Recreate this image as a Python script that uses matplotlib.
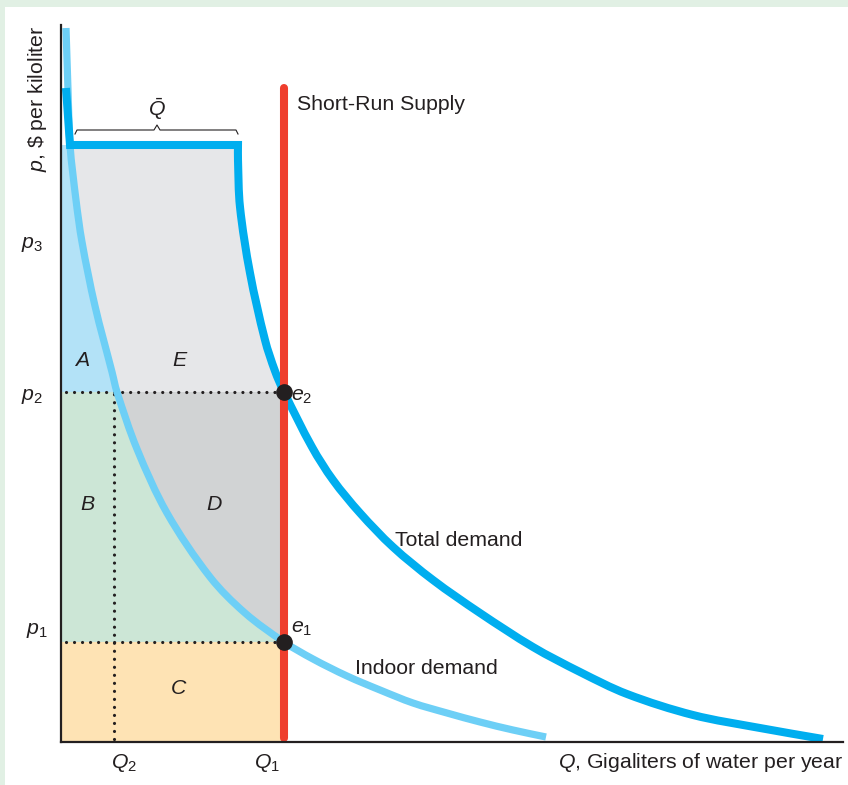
import matplotlib
matplotlib.use('Agg')
import matplotlib.pyplot as plt
import numpy as np
from matplotlib.patches import Rectangle, PathPatch
from matplotlib.path import Path

plt.rcParams['font.family'] = ['Liberation Sans', 'DejaVu Sans']
plt.rcParams['mathtext.fontset'] = 'custom'
plt.rcParams['mathtext.rm'] = 'Liberation Sans'
plt.rcParams['mathtext.it'] = 'Liberation Sans:italic'
plt.rcParams['mathtext.bf'] = 'Liberation Sans:bold'

# ---------------- data ----------------
indoor_q = [0.5, 0.7, 0.9, 1.5, 2.1, 3.4, 5.1, 5.6, 7.6, 10.6, 14.9, 18.4, 22.3,
            25.2, 28.6, 31.9, 35.2, 38.6, 41.9, 45.2, 48.5]
indoor_p = [71.4, 65.2, 59.7, 54.2, 50.0, 43.6, 37.0, 35.0, 29.3, 22.9, 16.5, 12.9, 10.0,
            8.3, 6.6, 5.2, 3.9, 2.9, 2.0, 1.2, 0.5]

# total demand: kinked top (vertical + horizontal Q-bar segment) then a curve
total_top_q = [0.5, 0.9, 17.7]
total_top_p = [65.4, 59.7, 59.7]
total_q = [17.7, 17.7, 17.9, 18.9, 20.4, 21.4, 22.3, 25.1, 27.2, 29.9, 33.2,
           37.2, 41.9, 47.2, 51.9, 56.6, 63.2, 69.9, 76.2]
total_p = [59.7, 58.2, 53.5, 46.9, 40.2, 37.1, 35.0, 29.5, 26.2, 22.9, 19.5,
           16.2, 12.9, 9.5, 7.0, 4.8, 2.7, 1.4, 0.3]

Q1, Q2 = 22.3, 5.3
p1, p2, p3 = 10.0, 35.0, 50.2
p_cap = 59.7
supply_p = [0.4, 65.4]

region_labels = ['A', 'E', 'B', 'D', 'C']
region_pos = [(2.1, 38.2), (11.9, 38.2), (2.7, 23.8), (15.3, 23.8), (11.8, 5.4)]

# ---------------- colours ----------------
DARK = '#231f20'
C_INDOOR = '#6dcff6'
C_TOTAL = '#00aeef'
C_SUPPLY = '#ef3e2d'
C_A = '#b3e2f7'
C_E = '#e6e7e9'
C_D = '#d1d3d4'
C_B = '#cce6d6'
C_C = '#fee3b4'
FS = 15.3


def bezier_segments(xs, ys):
    """Smooth cubic segments passing through the read points (drawing only)."""
    P = np.column_stack([xs, ys]).astype(float)
    n = len(P)
    tangents = []
    for i in range(n):
        a = P[max(i - 1, 0)]
        b = P[min(i + 1, n - 1)]
        d = b - a
        tangents.append(d / np.hypot(*d))
    segs = []
    for i in range(n - 1):
        L = np.hypot(*(P[i + 1] - P[i]))
        c1 = P[i] + tangents[i] * L / 3
        c2 = P[i + 1] - tangents[i + 1] * L / 3
        segs.append((P[i], c1, c2, P[i + 1]))
    return segs


def add_segs(verts, codes, segs, reverse=False):
    seq = segs[::-1] if reverse else segs
    for s in seq:
        a, c1, c2, b = (s[3], s[2], s[1], s[0]) if reverse else s
        verts += [c1, c2, b]
        codes += [Path.CURVE4] * 3


fig = plt.figure(figsize=(8.48, 7.85), dpi=100)
fig.patch.set_facecolor('#e1f0e4')
fig.add_artist(Rectangle((5 / 848, 0), 1, 1 - 7 / 785, transform=fig.transFigure,
                         facecolor='white', edgecolor='none', zorder=-10))
ax = fig.add_axes([61 / 848, 43 / 785, 782 / 848, 717 / 785])
ax.set_xlim(0, 78.2)
ax.set_ylim(0, 71.7)
ax.patch.set_alpha(0)
for s in ['top', 'right']:
    ax.spines[s].set_visible(False)
for s in ['left', 'bottom']:
    ax.spines[s].set_color(DARK)
    ax.spines[s].set_linewidth(1.6)
    ax.spines[s].set_zorder(6)
ax.set_xticks([])
ax.set_yticks([])

iseg = bezier_segments(indoor_q, indoor_p)
tseg = bezier_segments(total_q, total_p)
i_cap = indoor_p.index(p_cap)
i_p2 = indoor_p.index(p2)
i_p1 = indoor_p.index(p1)
t_e2 = total_p.index(p2)

# ---- region A ----
v = [(0, p_cap), (indoor_q[i_cap], p_cap)]
c = [Path.MOVETO, Path.LINETO]
add_segs(v, c, iseg[i_cap:i_p2])
v += [(0, p2), (0, p_cap)]
c += [Path.LINETO, Path.CLOSEPOLY]
ax.add_patch(PathPatch(Path(v, c), facecolor=C_A, edgecolor='none', zorder=1))

# ---- region E ----
v = [(indoor_q[i_cap], p_cap)]
c = [Path.MOVETO]
add_segs(v, c, iseg[i_cap:i_p2])
v += [(total_q[t_e2], p2)]
c += [Path.LINETO]
add_segs(v, c, tseg[0:t_e2], reverse=True)
v += [(indoor_q[i_cap], p_cap)]
c += [Path.CLOSEPOLY]
ax.add_patch(PathPatch(Path(v, c), facecolor=C_E, edgecolor='none', zorder=1))

# ---- region B ----
v = [(0, p2), (indoor_q[i_p2], p2)]
c = [Path.MOVETO, Path.LINETO]
add_segs(v, c, iseg[i_p2:i_p1])
v += [(0, p1), (0, p2)]
c += [Path.LINETO, Path.CLOSEPOLY]
ax.add_patch(PathPatch(Path(v, c), facecolor=C_B, edgecolor='none', zorder=1))

# ---- region D ----
v = [(indoor_q[i_p2], p2)]
c = [Path.MOVETO]
add_segs(v, c, iseg[i_p2:i_p1])
v += [(Q1, p2), (indoor_q[i_p2], p2)]
c += [Path.LINETO, Path.CLOSEPOLY]
ax.add_patch(PathPatch(Path(v, c), facecolor=C_D, edgecolor='none', zorder=1))

# ---- region C ----
ax.add_patch(Rectangle((0, 0), Q1, p1, facecolor=C_C, edgecolor='none', zorder=1))

# dotted guide lines
dot_kw = dict(color=DARK, lw=2.3, dashes=[0.01, 2.5], dash_capstyle='round', zorder=2)
ax.plot([0.5, Q1], [p2, p2], **dot_kw)
ax.plot([0.5, Q1], [p1, p1], **dot_kw)
ax.plot([Q2, Q2], [0.3, p2], **dot_kw)

# curves
v = [(indoor_q[0], indoor_p[0])]
c = [Path.MOVETO]
add_segs(v, c, iseg)
ax.add_patch(PathPatch(Path(v, c), facecolor='none', edgecolor=C_INDOOR, lw=5.2,
                       capstyle='butt', joinstyle='round', zorder=3))

v = [(total_top_q[0], total_top_p[0]), (total_top_q[1], total_top_p[1]),
     (total_top_q[2], total_top_p[2])]
c = [Path.MOVETO, Path.LINETO, Path.LINETO]
add_segs(v, c, tseg)
ax.add_patch(PathPatch(Path(v, c), facecolor='none', edgecolor=C_TOTAL, lw=5.8,
                       capstyle='butt', joinstyle='miter', zorder=3.5))

ax.plot([Q1, Q1], supply_p, color=C_SUPPLY, lw=5.8, solid_capstyle='round', zorder=4)
ax.plot([Q1, Q1], [p1, p2], 'o', color=DARK, ms=11, zorder=5)

# brace above Q-bar
bx = [1.4, 1.6, 9.3, 9.6, 9.9, 17.5, 17.7]
by = [60.8, 61.2, 61.2, 61.7, 61.2, 61.2, 60.8]
ax.plot(bx, by, color=DARK, lw=0.8, zorder=3, clip_on=False)
ax.text(9.6, 63.3, r'$\bar{Q}$', fontsize=FS, color=DARK, ha='center', va='center')

# labels
tkw = dict(fontsize=FS, color=DARK, clip_on=False)
ax.text(23.6, 63.8, 'Short-Run Supply', ha='left', va='center', **tkw)
ax.text(33.4, 20.2, 'Total demand', ha='left', va='center', **tkw)
ax.text(29.4, 7.4, 'Indoor demand', ha='left', va='center', **tkw)
ax.text(23.0, p2 - 0.4, r'$e_2$', ha='left', va='center', **tkw)
ax.text(23.0, p1 + 1.3, r'$e_1$', ha='left', va='center', **tkw)
for lab, (x, y) in zip(region_labels, region_pos):
    ax.text(x, y, r'$' + lab + '$', ha='center', va='center', **tkw)

ax.text(-2.9, p3 - 0.4, r'$p_3$', ha='center', va='center', **tkw)
ax.text(-2.9, p2 - 0.4, r'$p_2$', ha='center', va='center', **tkw)
ax.text(-2.4, p1 + 1.1, r'$p_1$', ha='center', va='center', **tkw)
ax.text(Q2 + 1.0, -2.1, r'$Q_2$', ha='center', va='center', **tkw)
ax.text(Q1 - 1.7, -2.1, r'$Q_1$', ha='center', va='center', **tkw)
ax.text(78.2, -2.1, r'$Q$, Gigaliters of water per year', ha='right', va='center', **tkw)
ax.text(-2.3, 64.3, r'$p$, \$ per kiloliter', rotation=90, ha='center', va='center', **tkw)

fig.savefig('out.png', dpi=100, facecolor=fig.get_facecolor())
